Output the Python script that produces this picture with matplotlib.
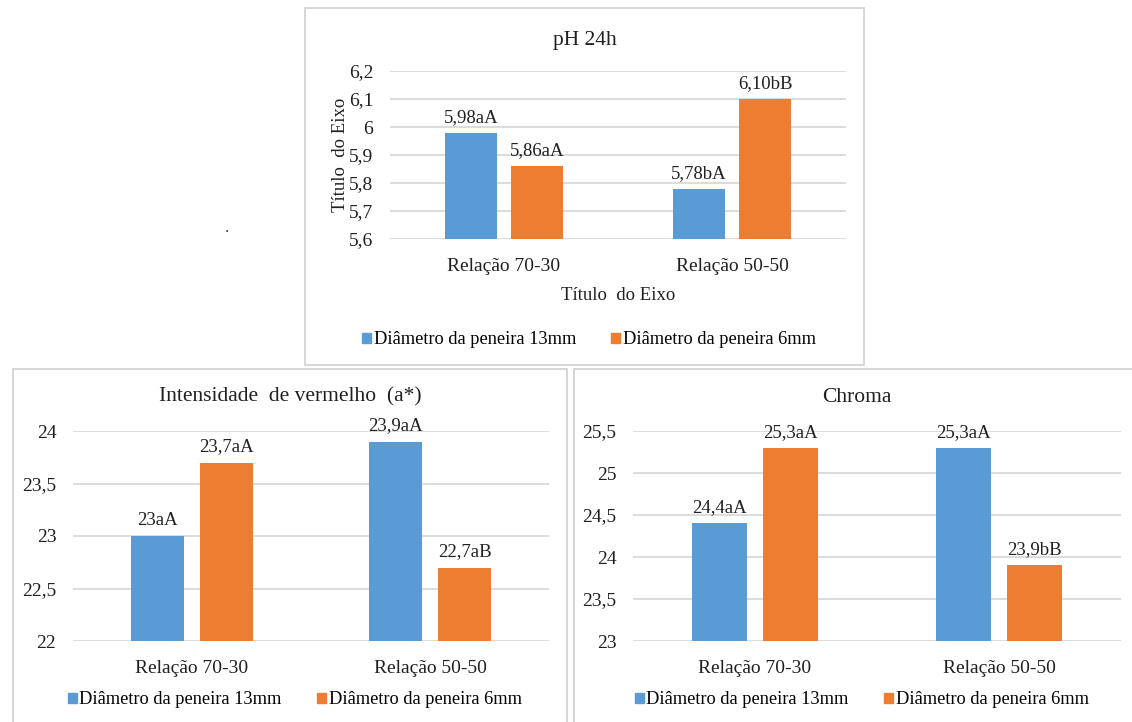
import matplotlib.pyplot as plt
from matplotlib.patches import Rectangle, Patch

plt.rcParams['font.family'] = ['Liberation Serif', 'DejaVu Serif']

W, H = 1132, 722

categorias = ["Relação 70-30", "Relação 50-50"]
series = ["Diâmetro da peneira 13mm", "Diâmetro da peneira 6mm"]
cores = ["#5B9BD5", "#ED7D31"]

ph_13mm = [5.98, 5.78]
ph_6mm = [5.86, 6.10]
ph_rotulos_13mm = ["5,98aA", "5,78bA"]
ph_rotulos_6mm = ["5,86aA", "6,10bB"]
ph_ticks = [5.6, 5.7, 5.8, 5.9, 6.0, 6.1, 6.2]
ph_ticklabels = ["5,6", "5,7", "5,8", "5,9", "6", "6,1", "6,2"]

verm_13mm = [23.0, 23.9]
verm_6mm = [23.7, 22.7]
verm_rotulos_13mm = ["23aA", "23,9aA"]
verm_rotulos_6mm = ["23,7aA", "22,7aB"]
verm_ticks = [22, 22.5, 23, 23.5, 24]
verm_ticklabels = ["22", "22,5", "23", "23,5", "24"]

chroma_13mm = [24.4, 25.3]
chroma_6mm = [25.3, 23.9]
chroma_rotulos_13mm = ["24,4aA", "25,3aA"]
chroma_rotulos_6mm = ["25,3aA", "23,9bB"]
chroma_ticks = [23, 23.5, 24, 24.5, 25, 25.5]
chroma_ticklabels = ["23", "23,5", "24", "24,5", "25", "25,5"]

fig = plt.figure(figsize=(W / 100, H / 100), dpi=100)


def caixa(x0, y0, x1, y1):
    # pixels (origem no topo) -> coordenadas da figura
    return [x0 / W, 1 - y1 / H, (x1 - x0) / W, (y1 - y0) / H]


def moldura(x0, y0, x1, y1):
    fig.patches.append(Rectangle((x0 / W, 1 - y1 / H), (x1 - x0) / W, (y1 - y0) / H,
                                 transform=fig.transFigure, fill=False,
                                 edgecolor="#D0D0D0", lw=1.2))


def grafico(area, painel, v13, v6, r13, r6, ticks, ticklabels, titulo, ty, ly):
    ax = fig.add_axes(caixa(*area))
    x = range(len(categorias))
    larg = 0.225
    desl = 0.145
    for i in x:
        ax.bar(i - desl, v13[i], width=larg, color=cores[0], zorder=3)
        ax.bar(i + desl, v6[i], width=larg, color=cores[1], zorder=3)
        ax.annotate(r13[i], (i - desl, v13[i]), xytext=(0, 5), textcoords="offset points",
                    ha="center", va="bottom", fontsize=13.5, color="#202020")
        ax.annotate(r6[i], (i + desl, v6[i]), xytext=(0, 5), textcoords="offset points",
                    ha="center", va="bottom", fontsize=13.5, color="#202020")
    ax.set_xlim(-0.5, len(categorias) - 0.5)
    ax.set_ylim(ticks[0], ticks[-1])
    ax.set_yticks(ticks)
    ax.set_yticklabels(ticklabels)
    ax.set_xticks(list(x))
    ax.set_xticklabels(categorias)
    ax.tick_params(length=0, labelsize=14, colors="#202020")
    ax.tick_params(axis="x", pad=14)
    ax.tick_params(axis="y", pad=12)
    ax.grid(axis="y", color="#D9D9D9", lw=1.3, zorder=0)
    for s in ax.spines.values():
        s.set_visible(False)
    # título e legenda centrados no painel
    cx = (painel[0] + painel[1]) / 2
    fig.text(cx / W, 1 - ty / H, titulo, ha="center", va="center", fontsize=15.5,
             color="#202020")
    handles = [Patch(color=c) for c in cores]
    fig.legend(handles, series, loc="center", bbox_to_anchor=(cx / W + 0.004, 1 - ly / H),
               ncol=2, frameon=False, fontsize=13.2, handlelength=0.5,
               handleheight=0.5, handletextpad=0.15, columnspacing=1.9)
    return ax


# pH 24h
moldura(305, 8, 864, 365)
ax1 = grafico((390, 71, 846, 239), (305, 864), ph_13mm, ph_6mm, ph_rotulos_13mm,
              ph_rotulos_6mm, ph_ticks, ph_ticklabels, "pH 24h", 40, 340)
ax1.set_xlabel("Título  do Eixo", fontsize=13.5, color="#202020", labelpad=8)
ax1.set_ylabel("Título  do Eixo", fontsize=13.5, color="#202020", labelpad=0)

# Intensidade de vermelho
moldura(13, 369, 567, 730)
grafico((73, 431, 549, 641), (13, 567), verm_13mm, verm_6mm, verm_rotulos_13mm,
        verm_rotulos_6mm, verm_ticks, verm_ticklabels,
        "Intensidade  de vermelho  (a*)", 397, 700)

# Chroma
moldura(574, 369, 1140, 730)
grafico((633, 431, 1121, 641), (574, 1140), chroma_13mm, chroma_6mm, chroma_rotulos_13mm,
        chroma_rotulos_6mm, chroma_ticks, chroma_ticklabels, "Chroma", 397, 700)

fig.text(227 / W, 1 - 228 / H, ".", ha="center", va="center", fontsize=12, color="#404040")

fig.savefig("out.png", dpi=100)
